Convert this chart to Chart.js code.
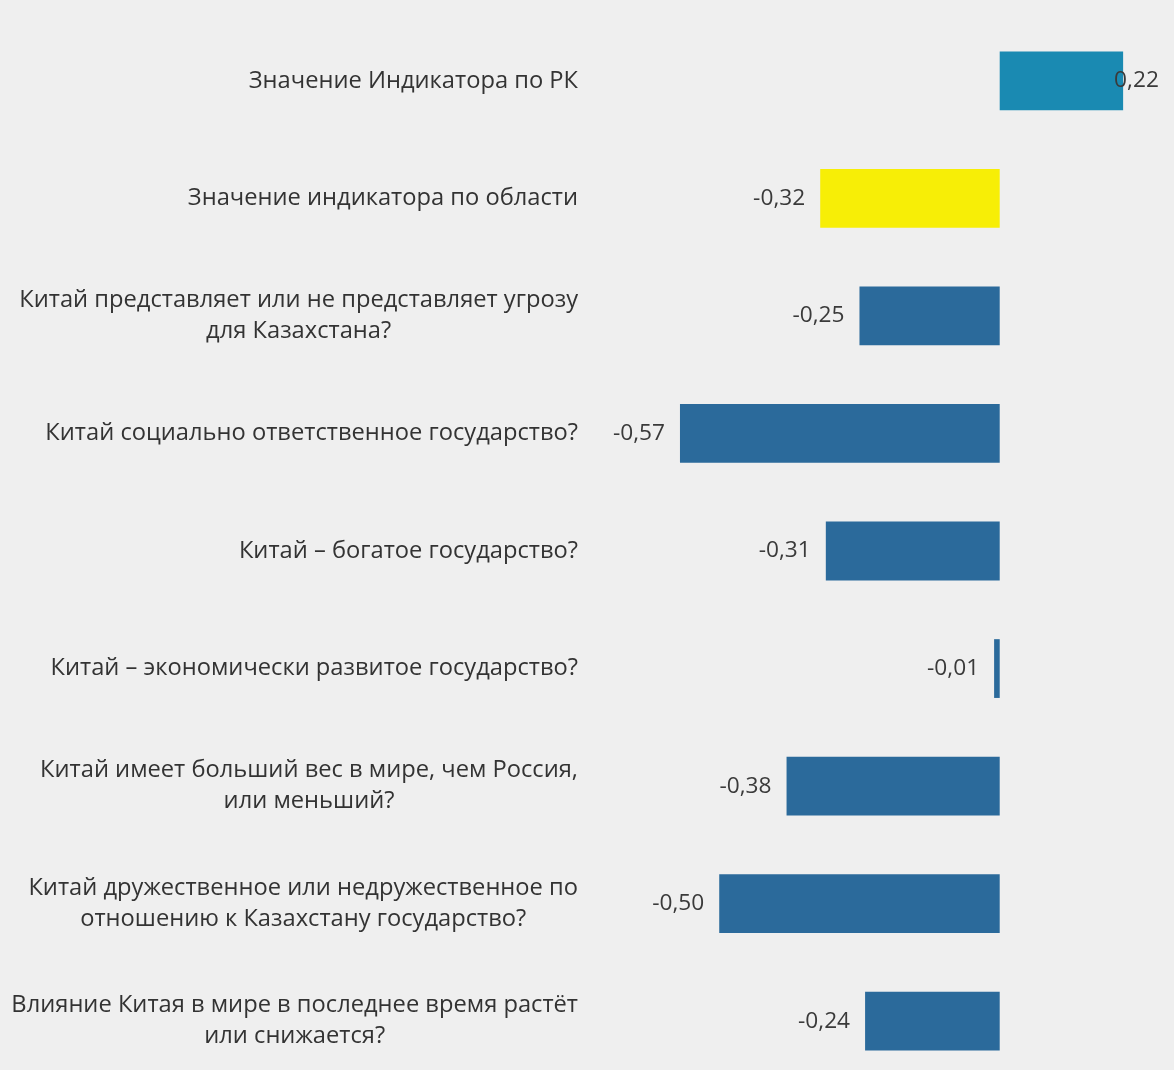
<!DOCTYPE html>
<html>
<head>
<meta charset="utf-8">
<script src="https://cdn.jsdelivr.net/npm/chart.js@4"></script>
<style>
  html, body { margin: 0; padding: 0; background: #efefef; overflow: hidden; }
  #wrap { position: relative; width: 1174px; height: 1090px; }
</style>
</head>
<body>
<div id="wrap"><canvas id="myChart"></canvas></div>
<script>
// question labels (multi-line as in the source)
const questions = [
  ['Значение Индикатора по РК'],
  ['Значение индикатора по области'],
  ['Китай представляет или не представляет угрозу', 'для Казахстана?'],
  ['Китай социально ответственное государство?'],
  ['Китай – богатое государство?'],
  ['Китай – экономически развитое государство?'],
  ['Китай имеет больший вес в мире, чем Россия,', 'или меньший?'],
  ['Китай дружественное или недружественное по', 'отношению к Казахстану государство?'],
  ['Влияние Китая в мире в последнее время растёт', 'или снижается?']
]
const indicator = [0.22, -0.32, -0.25, -0.57, -0.31, -0.01, -0.38, -0.50, -0.24]
const barColors = ['#1a8ab2', '#f7ee06', '#2b6a9b', '#2b6a9b', '#2b6a9b', '#2b6a9b', '#2b6a9b', '#2b6a9b', '#2b6a9b']

const ctx = document.getElementById('myChart');
const FONT = '"Open Sans", "Noto Sans", sans-serif';

// draws the question text right-aligned as a block, lines centered inside it
const labelsPlugin = {
  id: 'labelsPlugin',
  afterDatasetsDraw(chart) {
    const c = chart.ctx;
    const yScale = chart.scales.y;
    const meta = chart.getDatasetMeta(0);
    c.save();
    c.textBaseline = 'middle';
    c.font = '23.7px ' + FONT;
    c.fillStyle = '#333333';
    const rightEdge = 578;
    const lineH = 31;
    questions.forEach((lines, i) => {
      const yc = yScale.getPixelForTick(i);
      const widest = Math.max(...lines.map(l => c.measureText(l).width));
      const cx = rightEdge - widest / 2;
      c.textAlign = 'center';
      lines.forEach((l, j) => {
        const y = yc + (j - (lines.length - 1) / 2) * lineH;
        c.fillText(l, cx, y);
      });
    });
    // value labels
    c.font = '22.7px ' + FONT;
    c.fillStyle = '#3a3a3a';
    meta.data.forEach((bar, i) => {
      const v = indicator[i];
      const txt = v.toFixed(2).replace('.', ',');
      if (v >= 0) {
        c.textAlign = 'left';
        c.fillText(txt, bar.x - 9, bar.y);
      } else {
        const left = Math.min(bar.x, bar.base);
        c.textAlign = 'right';
        c.fillText(txt, left - 15, bar.y);
      }
    });
    c.restore();
  }
}

function chart() {
  return (new Chart(ctx, {
    type: 'bar',
    data: {
      labels: questions,
      datasets: [
        {
          data: indicator,
          backgroundColor: barColors,
          borderWidth: 0,
          categoryPercentage: 1,
          barPercentage: 0.5
        }
      ]
    },
    options: {
      indexAxis: 'y',
      responsive: true,
      maintainAspectRatio: false,
      animation: false,
      layout: { padding: { left: 579, right: 6, top: 22, bottom: 10 } },
      plugins: {
        legend: { display: false },
        tooltip: { enabled: false }
      },
      scales: {
        x: { display: false, min: -0.75, max: 0.30 },
        y: { display: false }
      }
    },
    plugins: [labelsPlugin]
  }))
}

document.addEventListener('DOMContentLoaded', () => {
  chart();
});
</script>
</body>
</html>
